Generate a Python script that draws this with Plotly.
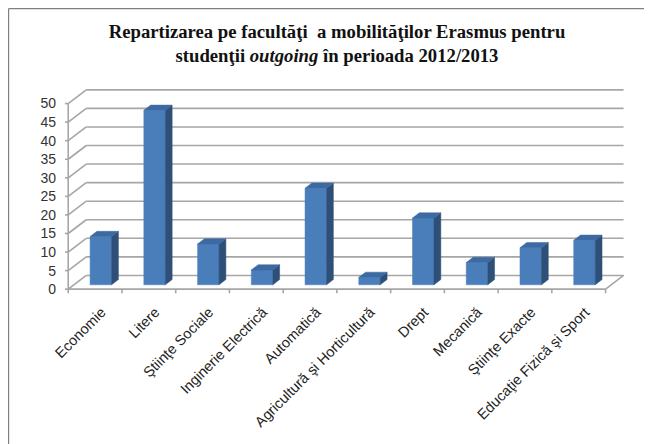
import plotly.graph_objects as go

categories = ["Economie", "Litere", "Ştiinţe Sociale", "Inginerie Electrică", "Automatică",
              "Agricultură şi Horticultură", "Drept", "Mecanică", "Ştiinţe Exacte",
              "Educaţie Fizică şi Sport"]
values = [13, 47, 11, 4, 26, 2, 18, 6, 10, 12]
y_ticks = [0, 5, 10, 15, 20, 25, 30, 35, 40, 45, 50]

# page body has an 8px margin; figure is sized/positioned to compensate
W, H = 644, 436
L, R, T, B = 57, 26, 77, 150
XR = [-0.56, 9.88]
YR = [-1.3, 55]

# 3D projection offsets (data units)
DX, DY = 0.335, 3.7          # full floor depth
BFX, BFY = 0.107, 1.18       # bar front offset
BDX, BDY = 0.127, 1.4        # bar depth
BW = 0.40
LABEL_SHIFT = 0.12

n = len(categories)
grid_col = "#a6a6a6"

def seg_trace(xs, ys, color, width):
    return go.Scatter(x=xs, y=ys, mode="lines", line=dict(color=color, width=width),
                      hoverinfo="skip", showlegend=False)

# back wall gridlines + side wall diagonals
gx, gy = [], []
for v in y_ticks:
    gx += [-0.5 + DX, n - 0.5 + DX, None]
    gy += [v + DY, v + DY, None]
    gx += [-0.5, -0.5 + DX, None]
    gy += [v, v + DY, None]
gx += [n - 0.5, n - 0.5 + DX, None]
gy += [0, DY, None]
# front axes
ax, ay = [-0.5, -0.5, None, -0.5, n - 0.5, None], [0, y_ticks[-1], None, 0, 0, None]
for v in y_ticks:
    ax += [-0.56, -0.5, None]
    ay += [v, v, None]
for b in range(n + 1):
    ax += [b - 0.5, b - 0.5, None]
    ay += [0, -1.1, None]

fig = go.Figure()
fig.add_trace(seg_trace(gx, gy, grid_col, 1.6))
fig.add_trace(seg_trace(ax, ay, grid_col, 1.6))

fx, fy, sx, sy, tx, ty = [], [], [], [], [], []
for i, v in enumerate(values):
    x0 = i - BW / 2 + BFX
    x1 = x0 + BW
    y0 = BFY
    y1 = BFY + v
    fx += [x0, x1, x1, x0, x0, None]
    fy += [y0, y0, y1, y1, y0, None]
    sx += [x1, x1 + BDX, x1 + BDX, x1, x1, None]
    sy += [y0, y0 + BDY, y1 + BDY, y1, y0, None]
    tx += [x0, x1, x1 + BDX, x0 + BDX, x0, None]
    ty += [y1, y1, y1 + BDY, y1 + BDY, y1, None]

for xs, ys, col in [(fx, fy, "#4a7ebb"), (sx, sy, "#2e5078"), (tx, ty, "#3d6aa3")]:
    fig.add_trace(go.Scatter(x=xs, y=ys, mode="lines", fill="toself", fillcolor=col,
                             line=dict(color=col, width=0.5), hoverinfo="skip",
                             showlegend=False))

pw = W - L - R
ph = H - T - B
def px2paper_x(px):
    return (px - L) / pw
def py2paper_y(py):
    return (H - B - py) / ph

fig.update_layout(
    width=W, height=H,
    margin=dict(l=L, r=R, t=T, b=B),
    paper_bgcolor="white", plot_bgcolor="white",
    showlegend=False,
    title=dict(
        text="Repartizarea pe facultăţi  a mobilităţilor Erasmus pentru<br>studenţii <i>outgoing</i> în perioada 2012/2013",
        x=329 / W, xanchor="center", y=1 - 30 / H, yanchor="middle",
        font=dict(family="Liberation Serif", size=18.7, color="#111111", weight="bold"),
    ),
    xaxis=dict(range=XR, showgrid=False, zeroline=False, showline=False,
               tickmode="array", tickvals=[i + LABEL_SHIFT for i in range(n)],
               ticktext=categories,
               tickangle=-45, ticks="", ticklabelstandoff=6,
               tickfont=dict(family="Liberation Sans", size=14.5, color="#222222")),
    yaxis=dict(range=YR, showgrid=False, zeroline=False, showline=False,
               tickmode="array", tickvals=y_ticks, ticktext=[str(v) for v in y_ticks],
               ticks="", ticklabelstandoff=8,
               tickfont=dict(family="Liberation Sans", size=14, color="#333333")),
    shapes=[
        dict(type="line", xref="paper", yref="paper",
             x0=px2paper_x(0.6), x1=px2paper_x(W + 5), y0=py2paper_y(0.6), y1=py2paper_y(0.6),
             line=dict(color="#808080", width=1.2)),
        dict(type="line", xref="paper", yref="paper",
             x0=px2paper_x(0.6), x1=px2paper_x(0.6), y0=py2paper_y(0.6), y1=py2paper_y(H + 5),
             line=dict(color="#808080", width=1.2)),
    ],
)

fig.write_html("out.html")
